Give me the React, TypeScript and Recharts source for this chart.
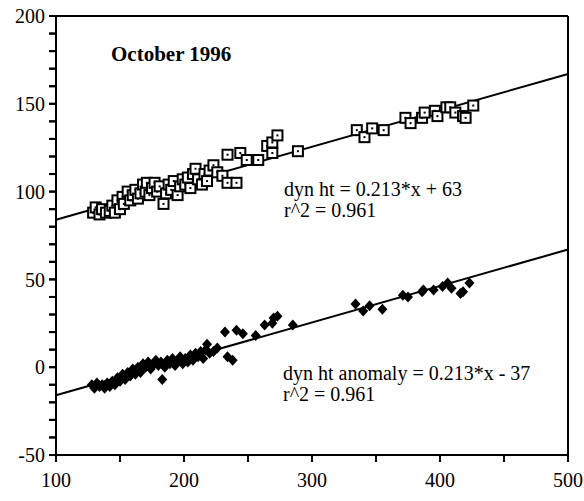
import React from 'react';
import {
  ComposedChart,
  Line,
  Scatter,
  XAxis,
  YAxis,
  ReferenceLine,
} from 'recharts';

// dyn ht (open squares)
const dynHt = [
  { x: 129, y: 88 }, { x: 131, y: 91 }, { x: 134, y: 87 }, { x: 136, y: 90 },
  { x: 139, y: 88 }, { x: 142, y: 89 }, { x: 144, y: 92 }, { x: 146, y: 88 },
  { x: 148, y: 95 }, { x: 150, y: 90 }, { x: 152, y: 97 }, { x: 153, y: 93 },
  { x: 156, y: 100 }, { x: 158, y: 95 }, { x: 160, y: 98 }, { x: 162, y: 101 },
  { x: 164, y: 96 }, { x: 166, y: 99 }, { x: 168, y: 104 }, { x: 170, y: 100 },
  { x: 171, y: 105 }, { x: 173, y: 98 }, { x: 175, y: 102 }, { x: 177, y: 105 },
  { x: 179, y: 100 }, { x: 181, y: 103 }, { x: 184, y: 93 }, { x: 186, y: 99 },
  { x: 188, y: 104 }, { x: 190, y: 101 }, { x: 192, y: 106 }, { x: 195, y: 98 },
  { x: 197, y: 103 }, { x: 199, y: 107 }, { x: 201, y: 104 }, { x: 203, y: 108 },
  { x: 205, y: 102 }, { x: 207, y: 110 }, { x: 209, y: 113 }, { x: 211, y: 107 },
  { x: 214, y: 104 }, { x: 216, y: 110 }, { x: 218, y: 106 }, { x: 220, y: 112 },
  { x: 223, y: 115 }, { x: 226, y: 111 }, { x: 230, y: 109 }, { x: 234, y: 121 },
  { x: 234, y: 105 }, { x: 241, y: 105 }, { x: 244, y: 122 }, { x: 249, y: 118 },
  { x: 258, y: 118 }, { x: 265, y: 126 }, { x: 269, y: 122 }, { x: 269, y: 128 },
  { x: 273, y: 132 }, { x: 289, y: 123 }, { x: 335, y: 135 }, { x: 341, y: 131 },
  { x: 347, y: 136 }, { x: 356, y: 135 }, { x: 373, y: 142 }, { x: 377, y: 139 },
  { x: 386, y: 142 }, { x: 388, y: 145 }, { x: 396, y: 146 }, { x: 398, y: 143 },
  { x: 405, y: 148 }, { x: 408, y: 148 }, { x: 412, y: 145 }, { x: 418, y: 143 },
  { x: 420, y: 142 }, { x: 426, y: 149 },
];

// dyn ht anomaly (filled diamonds)
const dynHtAnomaly = [
  { x: 128, y: -10 }, { x: 130, y: -12 }, { x: 132, y: -9 }, { x: 134, y: -11 },
  { x: 136, y: -10 }, { x: 138, y: -12 }, { x: 140, y: -9 }, { x: 142, y: -11 },
  { x: 144, y: -8 }, { x: 146, y: -10 }, { x: 148, y: -6 }, { x: 150, y: -8 },
  { x: 152, y: -4 }, { x: 154, y: -7 }, { x: 156, y: -3 }, { x: 158, y: -5 },
  { x: 160, y: -1 }, { x: 162, y: -4 }, { x: 164, y: 0 }, { x: 166, y: -3 },
  { x: 168, y: 2 }, { x: 170, y: 0 }, { x: 172, y: 3 }, { x: 174, y: -1 },
  { x: 176, y: 2 }, { x: 178, y: 4 }, { x: 180, y: 1 }, { x: 182, y: 3 },
  { x: 183, y: -7 }, { x: 185, y: 0 }, { x: 187, y: 4 }, { x: 189, y: 2 },
  { x: 191, y: 5 }, { x: 193, y: 1 }, { x: 195, y: 3 }, { x: 197, y: 6 },
  { x: 199, y: 2 }, { x: 201, y: 5 }, { x: 203, y: 3 }, { x: 205, y: 7 },
  { x: 207, y: 4 }, { x: 209, y: 8 }, { x: 211, y: 6 }, { x: 213, y: 9 },
  { x: 215, y: 5 }, { x: 217, y: 10 }, { x: 218, y: 13 }, { x: 220, y: 8 },
  { x: 223, y: 9 }, { x: 226, y: 11 }, { x: 232, y: 20 }, { x: 234, y: 6 },
  { x: 238, y: 4 }, { x: 241, y: 21 }, { x: 246, y: 19 }, { x: 256, y: 18 },
  { x: 263, y: 24 }, { x: 269, y: 25 }, { x: 270, y: 28 }, { x: 273, y: 29 },
  { x: 285, y: 24 }, { x: 334, y: 36 }, { x: 340, y: 32 }, { x: 345, y: 35 },
  { x: 355, y: 33 }, { x: 371, y: 41 }, { x: 375, y: 40 }, { x: 386, y: 43 },
  { x: 387, y: 44 }, { x: 395, y: 44 }, { x: 402, y: 46 }, { x: 406, y: 48 },
  { x: 409, y: 45 }, { x: 416, y: 42 }, { x: 418, y: 43 }, { x: 423, y: 48 },
];

// fitted lines, end points
const dynHtFit = [{ x: 100, y: 84 }, { x: 500, y: 167 }];
const anomalyFit = [{ x: 100, y: -16 }, { x: 500, y: 67 }];

const xTicks = [100, 150, 200, 250, 300, 350, 400, 450, 500];
const xLabels = [100, 200, 300, 400, 500];
const yTicks = [
  -50, -40, -30, -20, -10, 0, 10, 20, 30, 40, 50, 60, 70, 80, 90, 100,
  110, 120, 130, 140, 150, 160, 170, 180, 190, 200,
];
const yLabels = [-50, 0, 50, 100, 150, 200];

const FONT = '"Liberation Serif", "Times New Roman", serif';
const tickStyle = { fill: '#000', fontSize: 20, fontFamily: FONT };

const OpenSquare = (props: any) => {
  const { cx, cy } = props;
  if (cx == null || cy == null) return null;
  return (
    <g>
      <rect x={cx - 5} y={cy - 5} width={10} height={10} fill="#fff" stroke="#000" strokeWidth={2} />
      <rect x={cx - 1} y={cy - 1} width={2} height={2} fill="#000" />
    </g>
  );
};

const Diamond = (props: any) => {
  const { cx, cy } = props;
  if (cx == null || cy == null) return null;
  return (
    <polygon
      points={`${cx},${cy - 5.5} ${cx + 5},${cy} ${cx},${cy + 5.5} ${cx - 5},${cy}`}
      fill="#000"
    />
  );
};

export default function App() {
  return (
    <div style={{ position: 'absolute', left: 0, top: 0, width: 584, height: 501 }}>
      <ComposedChart width={584} height={501} margin={{ top: 16, right: 16, bottom: 0, left: 0 }}>
        <XAxis
          dataKey="x"
          type="number"
          domain={[100, 500]}
          ticks={xTicks}
          interval={0}
          height={46}
          tickSize={7}
          tickMargin={11}
          tick={tickStyle}
          tickFormatter={(v: number) => (xLabels.includes(v) ? String(v) : '')}
          tickLine={{ stroke: '#000', strokeWidth: 2 }}
          axisLine={{ stroke: '#000', strokeWidth: 2 }}
        />
        <YAxis
          type="number"
          domain={[-50, 200]}
          ticks={yTicks}
          interval={0}
          width={56}
          tickSize={7}
          tickMargin={4}
          tick={tickStyle}
          tickFormatter={(v: number) => (yLabels.includes(v) ? String(v) : '')}
          tickLine={{ stroke: '#000', strokeWidth: 2 }}
          axisLine={{ stroke: '#000', strokeWidth: 2 }}
        />
        {/* frame: top and right edges */}
        <ReferenceLine y={200} stroke="#000" strokeWidth={2} />
        <ReferenceLine x={500} stroke="#000" strokeWidth={2} />
        {/* tick marks, drawn through the scales just outside the plot */}
        {xTicks.map((v) => (
          <ReferenceLine
            key={`xt${v}`}
            segment={[{ x: v, y: -50 }, { x: v, y: -54 }]}
            stroke="#000"
            strokeWidth={2}
            ifOverflow="visible"
          />
        ))}
        {yTicks.map((v) => (
          <ReferenceLine
            key={`yt${v}`}
            segment={[{ x: 100, y: v }, { x: 94.5, y: v }]}
            stroke="#000"
            strokeWidth={2}
            ifOverflow="visible"
          />
        ))}
        <Line
          data={dynHtFit}
          dataKey="y"
          type="linear"
          stroke="#000"
          strokeWidth={2}
          dot={false}
          activeDot={false}
          isAnimationActive={false}
        />
        <Line
          data={anomalyFit}
          dataKey="y"
          type="linear"
          stroke="#000"
          strokeWidth={2}
          dot={false}
          activeDot={false}
          isAnimationActive={false}
        />
        <Scatter data={dynHt} dataKey="y" shape={<OpenSquare />} isAnimationActive={false} />
        <Scatter data={dynHtAnomaly} dataKey="y" shape={<Diamond />} isAnimationActive={false} />
      </ComposedChart>

      {/* labels */}
      <svg
        width={584}
        height={501}
        style={{ position: 'absolute', left: 0, top: 0, pointerEvents: 'none' }}
        fontFamily={FONT}
      >
        <text x={111} y={61} fontSize={21} fontWeight="bold" fill="#000">October 1996</text>
        <text x={284} y={196} fontSize={20} fill="#000">dyn ht = 0.213*x + 63</text>
        <text x={284} y={217} fontSize={20} fill="#000">r^2 = 0.961</text>
        <text x={283} y={380} fontSize={20} fill="#000">dyn ht anomaly = 0.213*x - 37</text>
        <text x={283} y={401} fontSize={20} fill="#000">r^2 = 0.961</text>
      </svg>
    </div>
  );
}
